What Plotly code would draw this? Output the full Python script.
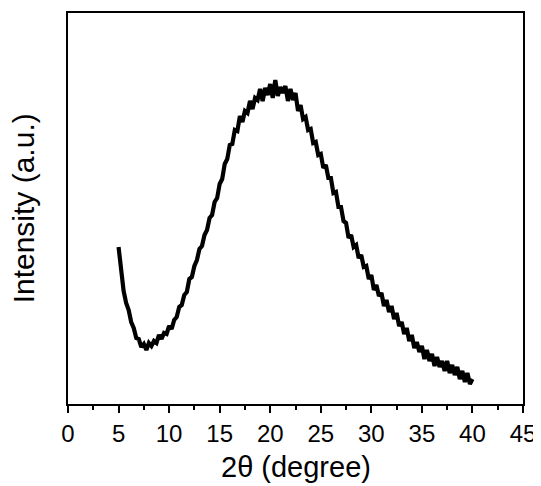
import plotly.graph_objects as go

# 2theta grid (degree) and intensity (a.u.)
two_theta = [
    5.00, 5.25, 5.50, 5.75, 6.00, 6.25, 6.50, 6.75, 7.00, 7.25, 7.50, 7.75,
    8.00, 8.25, 8.50, 8.75, 9.00, 9.25, 9.50, 9.75, 10.00, 10.25, 10.50, 10.75,
    11.00, 11.25, 11.50, 11.75, 12.00, 12.25, 12.50, 12.75, 13.00, 13.25, 13.50, 13.75,
    14.00, 14.25, 14.50, 14.75, 15.00, 15.25, 15.50, 15.75, 16.00, 16.25, 16.50, 16.75,
    17.00, 17.25, 17.50, 17.75, 18.00, 18.25, 18.50, 18.75, 19.00, 19.25, 19.50, 19.75,
    20.00, 20.25, 20.50, 20.75, 21.00, 21.25, 21.50, 21.75, 22.00, 22.25, 22.50, 22.75,
    23.00, 23.25, 23.50, 23.75, 24.00, 24.25, 24.50, 24.75, 25.00, 25.25, 25.50, 25.75,
    26.00, 26.25, 26.50, 26.75, 27.00, 27.25, 27.50, 27.75, 28.00, 28.25, 28.50, 28.75,
    29.00, 29.25, 29.50, 29.75, 30.00, 30.25, 30.50, 30.75, 31.00, 31.25, 31.50, 31.75,
    32.00, 32.25, 32.50, 32.75, 33.00, 33.25, 33.50, 33.75, 34.00, 34.25, 34.50, 34.75,
    35.00, 35.25, 35.50, 35.75, 36.00, 36.25, 36.50, 36.75, 37.00, 37.25, 37.50, 37.75,
    38.00, 38.25, 38.50, 38.75, 39.00, 39.25, 39.50, 39.75, 40.00,
]
intensity = [
    157, 131, 113, 101, 94, 82, 76, 66, 65, 57, 60, 54,
    61, 58, 63, 61, 69, 65, 71, 70, 78, 75, 84, 87,
    97, 99, 109, 112, 125, 127, 138, 144, 155, 158, 169, 174,
    186, 189, 202, 206, 220, 225, 240, 245, 259, 260, 274, 273,
    288, 282, 293, 291, 303, 295, 306, 304, 315, 303, 316, 309,
    320, 306, 324, 308, 317, 311, 318, 303, 315, 304, 311, 293,
    299, 285, 287, 274, 275, 261, 262, 249, 250, 236, 239, 226,
    226, 211, 212, 197, 197, 183, 181, 166, 169, 157, 159, 146,
    149, 137, 138, 125, 129, 114, 119, 108, 111, 98, 104, 92,
    98, 85, 91, 78, 82, 70, 76, 63, 69, 56, 62, 52,
    58, 45, 54, 43, 50, 38, 47, 37, 43, 33, 43, 31,
    39, 29, 37, 25, 33, 22, 31, 20, 25,
]
x_ticks = [0, 5, 10, 15, 20, 25, 30, 35, 40, 45]

FONT = "Liberation Sans, Arial, sans-serif"

fig = go.Figure(
    go.Scatter(
        x=two_theta,
        y=intensity,
        mode="lines",
        line=dict(color="black", width=4.2),
        showlegend=False,
    )
)

# the page body adds an 8px offset, so the figure is a bit smaller than the window
fig.update_layout(
    width=533,
    height=478,
    margin=dict(l=60, r=18, t=5, b=82),
    paper_bgcolor="white",
    plot_bgcolor="white",
    font=dict(family=FONT, color="black"),
    annotations=[
        dict(text="Intensity (a.u.)", textangle=-90, x=-0.097, y=0.5,
             xref="paper", yref="paper", xanchor="center", yanchor="middle",
             showarrow=False, font=dict(size=30, family=FONT, color="black")),
        dict(text="2θ (degree)", x=0.5, y=-0.161,
             xref="paper", yref="paper", xanchor="center", yanchor="middle",
             showarrow=False, font=dict(size=29, family=FONT, color="black")),
    ],
)

fig.update_xaxes(
    range=[0, 45],
    tickvals=x_ticks,
    ticktext=[str(v) for v in x_ticks],
    ticks="outside",
    ticklen=7,
    tickwidth=1.5,
    tickcolor="black",
    tickfont=dict(size=24, family=FONT),
    minor=dict(ticks="outside", ticklen=4, tickwidth=1.5, tickcolor="black",
               tick0=0, dtick=2.5, showgrid=False),
    showline=True,
    linecolor="black",
    linewidth=2,
    mirror=True,
    showgrid=False,
    zeroline=False,
    automargin=False,
)

fig.update_yaxes(
    range=[0, 391],
    showticklabels=False,
    ticks="",
    showline=True,
    linecolor="black",
    linewidth=2,
    mirror=True,
    showgrid=False,
    zeroline=False,
    automargin=False,
)

fig.write_html("out.html")
